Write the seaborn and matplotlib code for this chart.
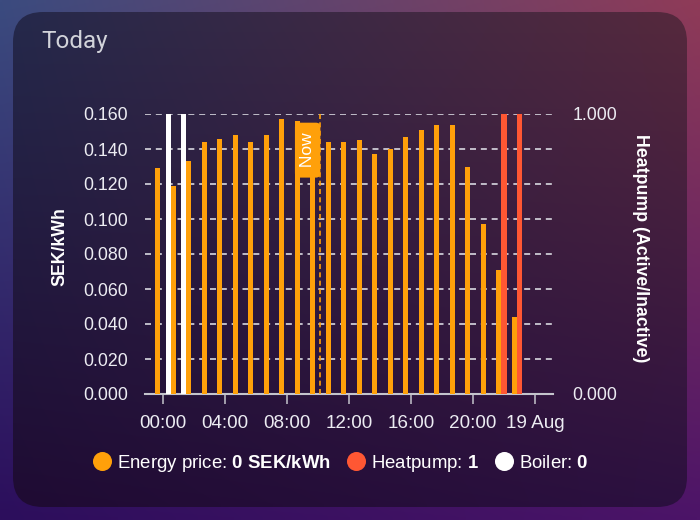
import numpy as np
import pandas as pd
import matplotlib
matplotlib.use("Agg")
import matplotlib.pyplot as plt
from matplotlib.colors import to_rgb
from matplotlib.patches import FancyBboxPatch
from matplotlib.lines import Line2D
import seaborn as sns

# hourly data for today
hours = [0, 1, 2, 3, 4, 5, 6, 7, 8, 9, 10, 11,
         12, 13, 14, 15, 16, 17, 18, 19, 20, 21, 22, 23]
price = [0.129, 0.119, 0.133, 0.144, 0.146, 0.148, 0.144, 0.148, 0.157, 0.156, 0.152, 0.144,
         0.144, 0.145, 0.137, 0.140, 0.147, 0.151, 0.154, 0.154, 0.130, 0.097, 0.071, 0.044]
heatpump = [0, 0, 0, 0, 0, 0, 0, 0, 0, 0, 0, 0,
            0, 0, 0, 0, 0, 0, 0, 0, 0, 0, 1, 1]
boiler = [1, 1, 0, 0, 0, 0, 0, 0, 0, 0, 0, 0,
          0, 0, 0, 0, 0, 0, 0, 0, 0, 0, 0, 0]
tick_hours = [0, 4, 8, 12, 16, 20, 24]
tick_labels = ["00:00", "04:00", "08:00", "12:00", "16:00", "20:00", "19 Aug"]
price_ticks = [0.0, 0.02, 0.04, 0.06, 0.08, 0.10, 0.12, 0.14, 0.16]
now_hour = 10.13

series = ["Energy price", "Heatpump", "Boiler"]
colors = {"Energy price": "#ffa00a", "Heatpump": "#ff5733", "Boiler": "#ffffff"}

price_df = pd.DataFrame({"hour": hours, "series": "Energy price", "value": price})
state_df = pd.concat([
    pd.DataFrame({"hour": hours, "series": "Heatpump", "value": heatpump}),
    pd.DataFrame({"hour": hours, "series": "Boiler", "value": boiler}),
])

plt.rcParams['font.family'] = ['Liberation Sans', 'DejaVu Sans']
plt.rcParams['mathtext.fontset'] = 'custom'
plt.rcParams['mathtext.rm'] = 'Liberation Sans'
plt.rcParams['mathtext.bf'] = 'Liberation Sans:bold'


def gradient(tl, tr, bl, br, w, h):
    tl, tr, bl, br = [np.array(to_rgb(c)) for c in (tl, tr, bl, br)]
    xs = np.linspace(0, 1, w)[None, :, None]
    ys = np.linspace(0, 1, h)[:, None, None]
    top = tl * (1 - xs) + tr * xs
    bot = bl * (1 - xs) + br * xs
    return top * (1 - ys) + bot * ys


fig = plt.figure(figsize=(7, 5.2), dpi=100)

# page background + card
bg = fig.add_axes([0, 0, 1, 1], zorder=-1)
bg.set_xlim(0, 700)
bg.set_ylim(0, 520)
bg.axis("off")
bg.imshow(gradient("#3b4b7f", "#8f3b58", "#2c0e5c", "#4c1468", 140, 104),
          extent=(0, 700, 0, 520), aspect="auto", interpolation="bilinear")
card = FancyBboxPatch((13, 13), 674, 495, boxstyle="round,pad=0,rounding_size=30",
                      facecolor="none", edgecolor="none", transform=bg.transData)
bg.add_patch(card)
im = bg.imshow(gradient("#25294b", "#56293d", "#1f0b33", "#2c1040", 140, 104),
               extent=(13, 687, 13, 508), aspect="auto", interpolation="bilinear")
im.set_clip_path(card)

fig.text(41 / 700, 1 - 48 / 520, "Today", family="Roboto",
         fontsize=17.5, color="#d2d3da", va="baseline")

# chart
ax = fig.add_axes([145 / 700, 126 / 520, 408 / 700, 280 / 520])
ax.set_facecolor("none")
sns.barplot(data=price_df, x="hour", y="value", hue="series", hue_order=series,
            palette=colors, native_scale=True, width=1.0, dodge=True,
            errorbar=None, legend=False, saturation=1, linewidth=0, zorder=3, ax=ax)

ax2 = ax.twinx()
ax2.set_facecolor("none")
sns.barplot(data=state_df, x="hour", y="value", hue="series", hue_order=series,
            palette=colors, native_scale=True, width=1.0, dodge=True,
            errorbar=None, legend=False, saturation=1, linewidth=0, zorder=3, ax=ax2)

ax.set_xlim(-1.16, 25.16)
ax.set_ylim(0, 0.16)
ax2.set_ylim(0, 1)
ax.set_xticks(tick_hours)
ax.set_xticklabels(tick_labels)
ax.set_yticks(price_ticks)
ax.set_yticklabels([f"{v:.3f}" for v in price_ticks])
ax2.set_yticks([0, 1])
ax2.set_yticklabels(["0.000", "1.000"])
ax.set_xlabel("")
ax.set_ylabel("")
ax2.set_ylabel("")

ax.yaxis.grid(True, color="#d8d8e0", linestyle=(0, (3.6, 2.9)), linewidth=1.2)
ax.set_axisbelow(True)

for a in (ax, ax2):
    for s in a.spines.values():
        s.set_visible(False)
ax.spines["bottom"].set_visible(True)
ax.spines["bottom"].set_color("#c4c4cc")
ax.spines["bottom"].set_linewidth(1.5)

ax.tick_params(axis="x", length=7.2, width=1.1, color="#c4c4cc", pad=8,
               labelsize=13.6, labelcolor="#ececf2")
ax.tick_params(axis="y", length=0, pad=12, labelsize=12.8, labelcolor="#ececf2")
ax2.tick_params(axis="y", length=0, pad=14, labelsize=12.8, labelcolor="#ececf2")

# "Now" marker
ax2.axvline(now_hour, color="#ffa00a", linewidth=1.2, linestyle=(0, (3, 2)), zorder=5)
ax2.annotate(" Now ", xy=(now_hour, 1), xycoords=("data", "axes fraction"),
             xytext=(-3.5, -10), textcoords="offset points", rotation=90,
             ha="right", va="top", color="white", fontsize=12.5,
             bbox=dict(boxstyle="round,pad=0.3,rounding_size=0.25",
                       fc="#ffa00a", ec="none"), zorder=6)

fig.text(60 / 700, 1 - 247 / 520, "SEK/kWh", rotation=90, ha="center", va="center",
         fontsize=12.8, fontweight="bold", color="white")
fig.text(640 / 700, 1 - 248 / 520, "Heatpump (Active/Inactive)", rotation=-90,
         ha="center", va="center", fontsize=12.8, fontweight="bold", color="white")

handles = [Line2D([], [], linestyle="none", marker="o", markersize=13.7,
                  markerfacecolor=colors[s], markeredgecolor="none") for s in series]
labels = [r"Energy price: $\mathbf{0}$ $\mathbf{SEK/kWh}$",
          r"Heatpump: $\mathbf{1}$",
          r"Boiler: $\mathbf{0}$"]
fig.legend(handles, labels, loc="center", bbox_to_anchor=(340.5 / 700, 1 - 463 / 520),
           ncol=3, frameon=False, fontsize=13.4, labelcolor="white",
           handlelength=1.0, handletextpad=0.3, columnspacing=0.85, borderpad=0)

fig.savefig("out.png", dpi=100)
